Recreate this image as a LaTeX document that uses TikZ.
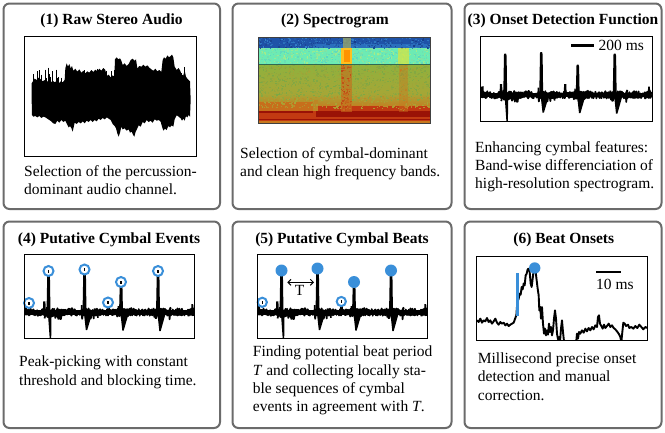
\documentclass[tikz,border=0pt]{standalone}
\usepackage{fontspec}
\setmainfont{Liberation Serif}
\usetikzlibrary{arrows.meta}
\definecolor{boxgray}{HTML}{6B6B6B}
\definecolor{cblue}{HTML}{3A8FD9}
\definecolor{sBlue}{HTML}{1E52A8}
\definecolor{sBlue2}{HTML}{3382CC}
\definecolor{sBlueD}{HTML}{163C8A}
\definecolor{sCyan}{HTML}{6CEBB4}
\definecolor{sCyan2}{HTML}{58D8C4}
\definecolor{sCyanY}{HTML}{A4EE88}
\definecolor{sGreen}{HTML}{8EB23E}
\definecolor{sGreen2}{HTML}{7AA846}
\definecolor{sOlive}{HTML}{A6A636}
\definecolor{sOrange}{HTML}{C8781E}
\definecolor{sRed}{HTML}{C23A12}
\definecolor{sDRed}{HTML}{9A1206}
\definecolor{sYel}{HTML}{FFC020}
\tikzset{
  panel/.style={draw=boxgray, line width=2pt, rounded corners=6pt},
  plotbox/.style={draw=black, line width=0.9pt},
  ttl/.style={font=\fontsize{15.5}{18}\selectfont\bfseries, inner sep=0pt, anchor=base},
  txt/.style={font=\fontsize{15.5}{18.3}\selectfont, align=left, inner sep=0pt, anchor=north west},
  lbl/.style={font=\fontsize{15.5}{18}\selectfont, inner sep=0pt},
  sig/.style={line width=1.7pt, line join=round},
  ring/.style={draw=cblue, line width=2pt, fill=white},
  bigdot/.style={fill=cblue},
  scalebar/.style={line width=2.7pt},
}
\newcommand\spk[4]{%
  \fill (#1-2,60) -- (#1-1.2,#2+1) -- (#1-0.7,#2) -- (#1+0.9,#2) -- (#1+1.4,#2+2) -- (#1+2,60) -- cycle;
  \fill (#1-0.6,59) -- (#1+1.3,#3) -- (#1+2.7,#3) -- (#1+#4,60) -- cycle;
}
\newcommand\odftrace{%
  \pgfmathsetseed{5}%
  \draw[sig] plot[domain=0:170.5,samples=340,variable=\t] (\t,{58+7.5*(rnd-0.5)});
  \draw[sig] plot[domain=0:170.5,samples=220,variable=\t] (\t,{58.5+6.5*(rnd-0.5)});
  \fill (0,56) rectangle (170.5,60.5);
  \draw[sig] plot[domain=20.5:38.5,samples=26,variable=\t] (\t,{59.5+12*(rnd-0.5)});
  \draw[sig] plot[domain=56:74,samples=26,variable=\t] (\t,{59.5+12*(rnd-0.5)});
  \draw[sig] plot[domain=92.5:110,samples=26,variable=\t] (\t,{59.5+12*(rnd-0.5)});
  \draw[sig] plot[domain=129.5:147,samples=26,variable=\t] (\t,{59.5+12*(rnd-0.5)});
  \fill (0,60) -- (0.3,50) -- (2.8,49.5) -- (3.3,59) -- cycle;
  \fill (18.8,60) -- (19.2,47.5) -- (21.4,47.3) -- (21.9,59) -- cycle;
  \fill (56.5,60) -- (57,51) -- (58.5,51) -- (59,59) -- cycle;
  \fill (83,60) -- (83.4,47.5) -- (85.6,47.3) -- (86,59) -- cycle;
  \fill (93.3,60) -- (93.7,52) -- (95,52) -- (95.4,59) -- cycle;
  \fill (167,60) -- (167.4,50) -- (169.2,50) -- (169.6,59) -- cycle;
  \spk{24.5}{17}{86}{3}
  \spk{60.5}{15.5}{76}{7.5}
  \spk{97}{28}{76.5}{7.5}
  \spk{134}{17}{77}{7.5}
}
\begin{document}
\begin{tikzpicture}[x=1pt,y=-1pt]
\useasboundingbox (0,0) rectangle (665,432);

% ---------- panel boxes ----------
\draw[panel] (3.5,3.5) rectangle (220,209);
\draw[panel] (232.5,3.5) rectangle (451.5,209);
\draw[panel] (464.5,3.5) rectangle (661.5,209);
\draw[panel] (3.5,221.5) rectangle (220,428);
\draw[panel] (232.5,221.5) rectangle (451.5,428);
\draw[panel] (464.5,221.5) rectangle (661.5,428);

% ---------- titles ----------
\node[ttl] (t1) at (111.5,24.3) {(1) Raw Stereo Audio};
\node[ttl] (t2) at (335,24.3) {(2) Spectrogram};
\node[ttl] (t3) at (563,24.3) {(3) Onset Detection Function};
\node[ttl] (t4) at (109,243.3) {(4) Putative Cymbal Events};
\node[ttl] (t5) at (342,243.3) {(5) Putative Cymbal Beats};
\node[ttl] (t6) at (563.8,243.3) {(6) Beat Onsets};

% ---------- descriptions ----------
\node[txt] (d1) at (24,165) {Selection of the percussion-\\dominant audio channel.};
\node[txt] (d2) at (240,147.3) {Selection of cymbal-dominant\\and clean high frequency bands.};
\node[txt] (d3) at (475,141) {Enhancing cymbal features:\\Band-wise differenciation of\\high-resolution spectrogram.};
\node[txt] (d4) at (19,356) {Peak-picking with constant\\threshold and blocking time.};
\node[txt] (d5) at (252.7,346) {Finding potential beat period\\\textit{T} and collecting locally sta-\\ble sequences of cymbal\\events in agreement with \textit{T}.};
\node[txt] (d6) at (477.7,352.6) {Millisecond precise onset\\detection and manual\\correction.};

% ---------- (1) raw audio ----------
\begin{scope}[scale=1/3]
\fill[black] plot coordinates {(95,300) (95,250) (100,242) (104,236) (110,240) (116,233) (122,238) (128,244) (134,240) (140,246) (146,241) (152,248) (158,242) (164,247) (170,243) (176,250) (182,244) (188,247) (194,240) (196,205) (200,190) (204,200) (208,192) (212,205) (216,198) (220,212) (226,206) (232,215) (238,208) (244,218) (250,212) (256,220) (262,214) (268,218) (274,210) (280,216) (286,209) (292,214) (298,206) (304,212) (310,204) (316,210) (320,228) (326,224) (332,232) (338,226) (343,230) (345,178) (350,172) (355,178) (360,175) (364,182) (368,195) (374,190) (380,198) (386,192) (392,180) (398,176) (404,182) (408,178) (412,205) (418,198) (424,200) (430,194) (436,200) (442,196) (448,203) (454,208) (460,212) (466,206) (472,214) (478,210) (484,216) (488,180) (492,172) (497,176) (502,166) (507,172) (512,168) (516,164) (520,172) (524,200) (530,210) (536,204) (542,215) (546,232) (550,226) (554,212) (558,230) (562,236) (566,240) (570,244) (572,300)
(570,350) (566,345) (562,352) (558,348) (554,362) (550,356) (546,362) (542,355) (536,350) (530,346) (524,358) (520,380) (515,376) (510,382) (505,378) (500,390) (495,386) (490,392) (486,380) (482,365) (476,360) (470,362) (464,358) (458,368) (452,362) (446,366) (440,360) (434,370) (428,366) (422,380) (416,376) (412,385) (407,395) (403,410) (399,404) (395,395) (390,398) (386,388) (380,392) (374,385) (368,388) (364,380) (360,398) (356,410) (352,400) (348,385) (344,378) (338,372) (332,360) (326,356) (320,352) (314,358) (308,354) (302,360) (296,356) (290,364) (284,360) (278,366) (272,360) (266,366) (260,362) (254,370) (248,364) (242,370) (236,366) (230,372) (224,368) (218,395) (214,384) (210,378) (206,382) (200,370) (196,362) (190,366) (184,360) (178,368) (172,362) (166,372) (160,370) (154,364) (148,360) (142,356) (136,352) (130,350) (124,354) (118,348) (112,352) (106,348) (100,350) (96,345)} -- cycle;
\end{scope}
\pgfmathsetseed{3}
\foreach \i in {1,...,120}{%
  \pgfmathsetmacro\xx{33+156*rnd}\pgfmathsetmacro\hh{4+8*rnd}%
  \draw[black, line width=0.9pt] (\xx,{97-\hh-20*rnd}) -- ++(0,{2*\hh});}
\draw[plotbox] (24.3,36.7) rectangle (196.7,156);

% ---------- (2) spectrogram ----------
\begin{scope}
\clip (258,37) rectangle (430,123);
\fill[sBlue] (258,37) rectangle (430,48);
\fill[sBlue2,opacity=.6] (313,44) rectangle (430,48);
\fill[sCyan] (258,48) rectangle (430,64);
\fill[top color=sGreen, bottom color=sOlive] (258,64) rectangle (430,94);
\fill[top color=sOlive, bottom color=sOrange!80!sOlive] (258,94) rectangle (430,106);
\fill[sRed] (258,106) rectangle (430,123);
\fill[sOrange!85!sRed] (258,102) rectangle (313,111);
\fill[sDRed] (258,111) rectangle (313,112.5);
\fill[sDRed] (316,110.5) rectangle (430,117);
\fill[sOrange!70!sOlive] (313,100) rectangle (318,110.5);
\fill[sDRed] (258,118.5) rectangle (430,120.3);
\fill[sOrange] (258,121) rectangle (430,123);
\pgfmathsetseed{11}
\foreach \i in {1,...,420}{%
  \pgfmathsetmacro\xx{257+173*rnd}\pgfmathsetmacro\yy{36.5+11*rnd}\pgfmathtruncatemacro\pp{100*rnd}%
  \fill[sBlueD!\pp!sBlue2] (\xx,\yy) rectangle ++(1.4,1.3);}
\foreach \i in {1,...,600}{%
  \pgfmathsetmacro\xx{257+173*rnd}\pgfmathsetmacro\yy{47.5+16*rnd}\pgfmathtruncatemacro\pp{100*rnd}%
  \fill[sCyan2!\pp!sCyanY] (\xx,\yy) rectangle ++(1.4,1.3);}
\foreach \i in {1,...,1100}{%
  \pgfmathsetmacro\xx{257+173*rnd}\pgfmathsetmacro\yy{64+36*rnd}\pgfmathtruncatemacro\pp{100*rnd}%
  \fill[sGreen2!\pp!sOlive] (\xx,\yy) rectangle ++(1.4,1.3);}
\foreach \i in {1,...,300}{%
  \pgfmathsetmacro\xx{257+173*rnd}\pgfmathsetmacro\yy{96+12*rnd}\pgfmathtruncatemacro\pp{60*rnd}%
  \fill[sOrange!\pp!sOlive] (\xx,\yy) rectangle ++(1.4,1.3);}
% cymbal stripes
\fill[sOrange!55!sCyan2,opacity=.8] (343,38) rectangle (351,48);
\fill[sYel] (341,48) rectangle (352,64);
\fill[orange!85!yellow] (343.5,50) rectangle (349.5,62);
\fill[sOrange!80!sRed,opacity=.6] (341,64) rectangle (351.5,112);
\fill[yellow!70!sCyan,opacity=.75] (398,48) rectangle (409,64);
\fill[sOrange,opacity=.4] (399,64) rectangle (408,112);
\foreach \i in {1,...,110}{%
  \pgfmathsetmacro\xx{340.5+10*rnd}\pgfmathsetmacro\yy{64+46*rnd}\pgfmathtruncatemacro\pp{100*rnd}%
  \fill[sRed!\pp!sOrange,opacity=.8] (\xx,\yy) rectangle ++(1.4,1.3);}
\foreach \i in {1,...,50}{%
  \pgfmathsetmacro\xx{398.5+8.5*rnd}\pgfmathsetmacro\yy{64+46*rnd}\pgfmathtruncatemacro\pp{100*rnd}%
  \fill[sOrange!\pp!sOlive,opacity=.8] (\xx,\yy) rectangle ++(1.4,1.3);}
\draw[black!55!sCyan, line width=0.8pt] (258,64) -- (430,64);
\end{scope}
\draw[plotbox, draw=black!75] (258,37) rectangle (430,123);

% ---------- (3) onset detection function ----------
\begin{scope}[shift={(480.7,36.7)}]
\clip (0,0) rectangle (171.3,84.6);
\odftrace
\end{scope}
\draw[plotbox] (480.7,36.7) rectangle (652,121.3);
\draw[scalebar] (571.3,45.7) -- (594,45.7);
\node[lbl, anchor=base west] (s3) at (598.5,50.7) {200 ms};

% ---------- (4) putative cymbal events ----------
\begin{scope}[shift={(24,254)}]
\begin{scope}
\clip (0,0) rectangle (170,84.3);
\odftrace
\end{scope}
\foreach \px/\py in {24.5/17, 60.5/15.5, 97/28, 134/17, 5/49, 84/48.5}{%
  \draw[ring] (\px,\py) circle (5);
  \fill (\px-0.8,\py-1.2) rectangle (\px+0.8,\py+1.6);}
\end{scope}
\draw[plotbox] (24,254) rectangle (194,338.3);

% ---------- (5) putative cymbal beats ----------
\begin{scope}[shift={(257,254)}]
\begin{scope}
\clip (0,0) rectangle (170,84.3);
\odftrace
\end{scope}
\foreach \px/\py in {5.3/48.3, 84.3/47.5}{%
  \draw[ring] (\px,\py) circle (4.6);
  \fill (\px-0.8,\py-1.2) rectangle (\px+0.8,\py+1.6);}
\foreach \px/\py in {24.5/16.5, 60.5/14.5, 97/28, 134/16.5}{%
  \fill[bigdot] (\px,\py) circle (6);}
\end{scope}
\draw[plotbox] (257,254) rectangle (427,338.3);
\coordinate (ta) at (287.3,282.3);
\coordinate (tb) at (314,282.3);
\draw[{Straight Barb[length=3pt,width=6pt]}-{Straight Barb[length=3pt,width=6pt]}, line width=1pt] (ta) -- (tb);
\node[lbl, anchor=base] (tl) at (299.7,295) {T};

% ---------- (6) beat onsets ----------
\begin{scope}
\clip (476,256) rectangle (647,340.3);
\begin{scope}[shift={(472,252)}, scale=1/3]
\draw[line width=1.9pt, line join=round] plot coordinates {(15,205) (20,210) (25,200) (30,212) (35,205) (40,208) (45,198) (50,210) (55,205) (60,215) (65,208) (70,200) (75,212) (80,218) (85,210) (90,215) (95,212) (100,220) (105,215) (110,222) (115,218) (120,215) (125,212) (130,198) (133,190) (136,150) (140,140) (143,125) (146,128) (149,105) (152,112) (155,95) (158,100) (161,70) (164,65) (167,52) (170,50) (173,60) (176,95) (179,105) (182,80) (185,55) (188,50) (191,60) (194,85) (197,110) (200,130) (202,175) (205,165) (207,200) (210,165) (213,215) (216,245) (219,230) (222,250) (225,235) (228,248) (231,215) (234,240) (237,225) (240,250) (243,235) (246,200) (249,175) (252,200) (255,245) (258,262) (261,255) (264,270) (267,230) (270,205) (273,240) (276,268) (280,275)};
\draw[line width=1.9pt, line join=round] plot coordinates {(312,275) (315,245) (318,260) (321,240) (325,245) (330,235) (335,242) (340,230) (345,238) (350,228) (355,235) (360,225) (365,232) (370,220) (375,225) (378,195) (381,190) (384,215) (388,222) (392,230) (396,218) (400,228) (405,222) (410,215) (415,225) (420,220) (425,228) (430,232) (435,238) (440,245) (445,255) (448,270) (451,240) (454,212) (458,215) (462,222) (468,218) (472,228) (478,225) (484,230) (490,222) (496,228) (502,218) (508,225) (514,232) (520,225) (527,228)};
\end{scope}
\end{scope}
\fill[cblue] (515.7,272.7) rectangle (518.7,316);
\fill[bigdot] (534.7,268) circle (5.7);
\draw[plotbox] (476,256) rectangle (647,340.3);
\draw[scalebar] (596,272) -- (621.3,272);
\node[lbl, anchor=base west] (s6) at (596,289.3) {10 ms};
\end{tikzpicture}
\end{document}
